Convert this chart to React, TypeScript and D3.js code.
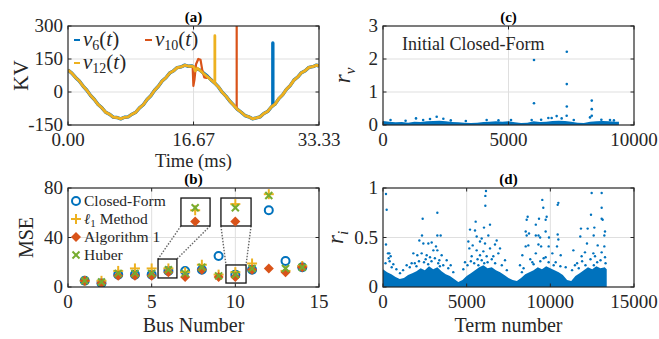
import React from 'react';
import * as d3 from 'd3';

const SERIF = "'Liberation Serif', 'DejaVu Serif', Times, serif";
const BLUE = '#0072BD';
const ORANGE = '#D95319';
const YELLOW = '#EDB120';
const GREEN = '#77AC30';
const GRID = '#dfdfdf';
const INK = '#262626';

const timeMs = [...d3.range(0, 33.5, 0.5), 33.33];
const baseKV = [
  100, 86, 66, 50, 27, 8, -16, -34, -57, -72, -92, -101, -114, -116, -122, -115,
  -113, -101, -92, -72, -58, -34, -17, 8, 26, 50, 65, 86, 96, 111, 114, 122,
  117, 118, 106, 100, 86, 72, 55, 40, 22, -2, -20, -42, -60, -79, -92, -107,
  -113, -122, -118, -113, -98, -89, -68, -55, -30, -13, 12, 29, 54, 68, 88, 97,
  112, 115, 122, 118,
];
// disturbances: [time, kV], and the window of base samples they replace
const v6Events = [[27.2, -62], [27.2, 223], [27.2, -62]];
const v6Window = [27.1, 27.3];
const v10Events = [
  [16.55, 118], [16.65, 28], [16.8, 58], [17.0, 126], [17.3, 150], [17.6, 146],
  [17.85, 96], [18.1, 66], [18.4, 64], [22.4, -76], [22.4, 330], [22.4, -76],
];
const v10Window = [16.5, 18.45];
const v12Events = [[16.75, 112], [16.9, 96], [17.2, 108], [19.5, 40], [19.5, 256], [19.5, 40]];
const v12Window = [16.6, 19.55];

// ---- (b) MSE per bus
const busNumbers = [1, 2, 3, 4, 5, 6, 7, 8, 9, 10, 11, 12, 13, 14];
const closedForm = [5, 3, 10, 10, 10, 13, 13, 14, 25, 10, 14, 62, 21, 16];
const l1Method = [5, 5, 13, 15, 15, 15, 12, 18, 10, 12, 19, 75, 13, 17];
const algorithm1 = [5, 3, 9, 9, 9, 12, 8, 14, 8, 8, 14, 15, 12, 16];
const huber = [5, 4, 11, 11, 11, 14, 11, 16, 9, 10, 15, 74, 15, 16];
// zoomed insets: magnified values of bus 6 and bus 10
const insetBus = [7.6, 10.0];
const insetL1 = [62, 67];
const insetAlg = [53, 53];
const insetHuber = [64, 64];

// ---- (c) initial closed-form residuals r_v
const rvBandTerm = [...d3.range(0, 9500, 250), 9400];
const rvBandTop = [
  0.12, 0.1, 0.08, 0.09, 0.07, 0.1, 0.09, 0.11, 0.12, 0.13, 0.11, 0.09, 0.08,
  0.07, 0.06, 0.07, 0.09, 0.1, 0.11, 0.1, 0.11, 0.08, 0.06, 0.07, 0.11, 0.09,
  0.1, 0.12, 0.13, 0.12, 0.1, 0.07, 0.06, 0.1, 0.11, 0.12, 0.11, 0.1, 0.1,
];
const rvPoints = [
  [300, 0.15], [900, 0.13], [1315, 0.2], [1600, 0.15], [1873, 0.18], [2139, 0.25],
  [2404, 0.19], [2700, 0.14], [3300, 0.12], [4130, 0.15], [4600, 0.14], [5100, 0.15],
  [5923, 0.15], [6300, 0.16], [6587, 0.21], [6720, 0.21], [6919, 0.27], [7118, 0.2],
  [7318, 0.28], [7600, 0.15], [8247, 0.23], [8700, 0.16], [9044, 0.15], [9200, 0.14],
  [6016, 1.97], [6016, 0.66], [7323, 2.22], [7323, 1.24], [7323, 0.56],
  [8317, 0.74], [8317, 0.48], [8317, 0.28],
];

// ---- (d) residuals r_i
const riBandTerm = [...d3.range(0, 13500, 250), 13370];
const riBandTop = [
  0.18, 0.15, 0.13, 0.1, 0.08, 0.09, 0.12, 0.14, 0.16, 0.19, 0.17, 0.21, 0.18,
  0.2, 0.16, 0.13, 0.11, 0.08, 0.05, 0.07, 0.11, 0.14, 0.17, 0.2, 0.22, 0.19,
  0.2, 0.17, 0.15, 0.12, 0.09, 0.07, 0.06, 0.09, 0.13, 0.15, 0.17, 0.2, 0.18,
  0.21, 0.19, 0.17, 0.15, 0.12, 0.07, 0.06, 0.11, 0.14, 0.17, 0.2, 0.18, 0.21,
  0.19, 0.2, 0.18,
];
const riPoints = [
  [179, 0.94], [219, 0.78], [179, 0.43], [299, 0.34], [379, 0.34], [339, 0.29],
  [458, 0.31], [398, 0.26], [617, 0.23], [150, 0.24], [520, 0.2], [800, 0.18],
  [1016, 0.14], [1414, 0.22], [1713, 0.24], [1813, 0.34], [2052, 0.32], [2172, 0.47],
  [2311, 0.34], [2331, 0.52], [2371, 0.69], [2411, 0.44], [2610, 0.32], [2710, 0.44],
  [2809, 0.3], [2909, 0.45], [3008, 0.37], [3167, 0.41], [3247, 0.75], [3247, 0.52],
  [3247, 0.37], [3366, 0.27], [3446, 0.52], [3506, 0.32], [3805, 0.27], [4044, 0.22],
  [1200, 0.17], [1600, 0.2], [1900, 0.24], [2150, 0.26], [2450, 0.25], [2550, 0.28],
  [2900, 0.26], [3100, 0.29], [3300, 0.24], [3600, 0.22], [3900, 0.19], [4200, 0.15],
  [2000, 0.21], [2700, 0.23], [3400, 0.21],
  [4900, 0.25], [5100, 0.46], [5160, 0.39], [5200, 0.58], [5300, 0.31], [5359, 0.42],
  [5499, 0.57], [5538, 0.66], [5598, 0.51], [5598, 0.37], [5797, 0.32], [5798, 0.46],
  [5897, 0.49], [5997, 0.36], [6036, 0.6], [6096, 0.44], [6116, 0.92], [6116, 0.82],
  [6155, 0.97], [6195, 0.31], [6295, 0.52], [6395, 0.63], [6395, 0.39], [6594, 0.31],
  [6693, 0.43], [6793, 0.47], [6892, 0.34], [6992, 0.39], [7291, 0.27],
  [4800, 0.18], [5050, 0.22], [5250, 0.26], [5450, 0.24], [5650, 0.28], [5900, 0.27],
  [6250, 0.25], [6500, 0.28], [6700, 0.24], [7100, 0.22], [7400, 0.17], [5700, 0.22],
  [6050, 0.24],
  [8187, 0.22], [8327, 0.32], [8527, 0.56], [8527, 0.41], [8586, 0.68], [8586, 0.52],
  [8646, 0.71], [8686, 0.42], [8726, 0.54], [8925, 0.25], [9132, 0.63], [9132, 0.52],
  [9132, 0.34], [9290, 0.43], [9293, 0.52], [9323, 0.69], [9391, 0.5], [9450, 0.41],
  [9520, 0.88], [9580, 0.8], [9720, 0.68], [9720, 0.56], [9720, 0.3], [9780, 0.71],
  [9900, 0.41], [9920, 0.5], [10120, 0.34], [10320, 0.25], [10400, 0.41], [10439, 0.83],
  [10439, 0.53], [10479, 0.48], [10479, 0.85], [10620, 0.32], [10918, 0.2],
  [8400, 0.19], [8800, 0.28], [9000, 0.23], [9400, 0.26], [9600, 0.29], [9900, 0.25],
  [10200, 0.22], [10600, 0.21], [8300, 0.15],
  [11376, 0.37], [11470, 0.22], [11790, 0.51], [11830, 0.59], [11870, 0.31], [12070, 0.35],
  [12190, 0.44], [12230, 0.59], [12430, 0.73], [12470, 0.95], [12570, 0.34], [12590, 0.52],
  [12630, 0.6], [12670, 0.31], [12829, 0.42], [13068, 0.95], [13068, 0.8], [13068, 0.69],
  [13068, 0.35], [13127, 0.68], [13228, 0.52], [13228, 0.41], [13268, 0.56], [13268, 0.3],
  [11300, 0.17], [11600, 0.24], [11900, 0.26], [12100, 0.22], [12400, 0.28], [12800, 0.25],
  [13000, 0.27], [13300, 0.24], [12600, 0.22], [11700, 0.19],
];

type Box = { x0: number; x1: number; y0: number; y1: number };
const boxA: Box = { x0: 68, x1: 319, y0: 26, y1: 125 };
const boxB: Box = { x0: 68, x1: 319, y0: 188, y1: 287 };
const boxC: Box = { x0: 383, x1: 634, y0: 26, y1: 125 };
const boxD: Box = { x0: 383, x1: 634, y0: 188, y1: 287 };

const serifStyle = { fontFamily: SERIF };

function mergeSeries(events: number[][], win: number[]) {
  const pts = timeMs
    .map((t, i) => [t, baseKV[i]])
    .filter(([t]) => !(t > win[0] && t < win[1]));
  return pts.concat(events).sort((a, b) => a[0] - b[0]);
}

function Panel({ id, b, x, y, xTicks, yTicks, xGrid, yGrid, xFmt, yFmt, title, children }: any) {
  const tk = 3.5;
  return (
    <g>
      <defs>
        <clipPath id={id}>
          <rect x={b.x0} y={b.y0} width={b.x1 - b.x0} height={b.y1 - b.y0} />
        </clipPath>
      </defs>
      <rect x={b.x0} y={b.y0} width={b.x1 - b.x0} height={b.y1 - b.y0} fill="#fff" />
      {xGrid.map((v: number) => (
        <line key={'gx' + v} x1={x(v)} x2={x(v)} y1={b.y0} y2={b.y1} stroke={GRID} />
      ))}
      {yGrid.map((v: number) => (
        <line key={'gy' + v} x1={b.x0} x2={b.x1} y1={y(v)} y2={y(v)} stroke={GRID} />
      ))}
      <g clipPath={`url(#${id})`}>{children}</g>
      <rect x={b.x0} y={b.y0} width={b.x1 - b.x0} height={b.y1 - b.y0} fill="none" stroke={INK} strokeWidth={1.2} />
      {xTicks.map((v: number) => (
        <g key={'tx' + v} stroke={INK}>
          <line x1={x(v)} x2={x(v)} y1={b.y1} y2={b.y1 - tk} />
          <line x1={x(v)} x2={x(v)} y1={b.y0} y2={b.y0 + tk} />
        </g>
      ))}
      {yTicks.map((v: number) => (
        <g key={'ty' + v} stroke={INK}>
          <line x1={b.x0} x2={b.x0 + tk} y1={y(v)} y2={y(v)} />
          <line x1={b.x1} x2={b.x1 - tk} y1={y(v)} y2={y(v)} />
        </g>
      ))}
      <g style={serifStyle} fontSize={19} fill={INK}>
        {xTicks.map((v: number) => (
          <text key={'lx' + v} x={x(v)} y={b.y1 + 20.5} textAnchor="middle">{xFmt(v)}</text>
        ))}
        {yTicks.map((v: number) => (
          <text key={'ly' + v} x={b.x0 - 5} y={y(v)} dy="0.33em" textAnchor="end">{yFmt(v)}</text>
        ))}
      </g>
      <text x={(b.x0 + b.x1) / 2} y={b.y0 - 4} textAnchor="middle" style={serifStyle} fontWeight="bold" fontSize={15} fill="#000">
        {title}
      </text>
    </g>
  );
}

function Plus({ cx, cy, s = 5 }: any) {
  return (
    <g stroke={YELLOW} strokeWidth={2}>
      <line x1={cx - s} x2={cx + s} y1={cy} y2={cy} />
      <line x1={cx} x2={cx} y1={cy - s} y2={cy + s} />
    </g>
  );
}
function Cross({ cx, cy, s = 3.5 }: any) {
  return (
    <g stroke={GREEN} strokeWidth={2}>
      <line x1={cx - s} x2={cx + s} y1={cy - s} y2={cy + s} />
      <line x1={cx - s} x2={cx + s} y1={cy + s} y2={cy - s} />
    </g>
  );
}
function Diamond({ cx, cy, s = 5 }: any) {
  return <path d={`M${cx},${cy - s}L${cx + s},${cy}L${cx},${cy + s}L${cx - s},${cy}Z`} fill={ORANGE} />;
}
function Ring({ cx, cy }: any) {
  return <circle cx={cx} cy={cy} r={4} fill="none" stroke={BLUE} strokeWidth={2} />;
}

function VLabel({ base, sub, sx, sy }: any) {
  // italic variable with subscript, e.g. v_6(t)
  return (
    <text x={sx} y={sy} style={serifStyle} fontSize={21} fill={INK}>
      <tspan fontStyle="italic">{base}</tspan>
      <tspan fontSize={14} dy={4}>{sub}</tspan>
      <tspan dy={-4}>(</tspan>
      <tspan fontStyle="italic">t</tspan>
      <tspan>)</tspan>
    </text>
  );
}

export default function App() {
  // (a)
  const xa = d3.scaleLinear().domain([0, 33.33]).range([boxA.x0, boxA.x1]);
  const ya = d3.scaleLinear().domain([-150, 300]).range([boxA.y1, boxA.y0]);
  const lineA = d3.line<number[]>().x((d) => xa(d[0])).y((d) => ya(d[1]));
  const v6 = mergeSeries(v6Events, v6Window);
  const v10 = mergeSeries(v10Events, v10Window);
  const v12 = mergeSeries(v12Events, v12Window);

  // (b)
  const xb = d3.scaleLinear().domain([0, 15]).range([boxB.x0, boxB.x1]);
  const yb = d3.scaleLinear().domain([0, 80]).range([boxB.y1, boxB.y0]);
  const srcBoxes = [
    { x0: 5.38, x1: 6.51, y0: 7.3, y1: 22.6 },
    { x0: 9.44, x1: 10.64, y0: 3.2, y1: 17.8 },
  ];
  const zoomBoxes = [
    { x0: 6.75, x1: 8.49, y0: 49.3, y1: 71.9 },
    { x0: 9.14, x1: 10.94, y0: 49.3, y1: 71.9 },
  ];

  // (c)
  const xc = d3.scaleLinear().domain([0, 10000]).range([boxC.x0, boxC.x1]);
  const yc = d3.scaleLinear().domain([0, 3]).range([boxC.y1, boxC.y0]);
  const areaC = d3
    .area<number>()
    .x((_, i) => xc(rvBandTerm[i]))
    .y0(yc(0) + 1.5)
    .y1((d) => yc(d));

  // (d)
  const xd = d3.scaleLinear().domain([0, 15000]).range([boxD.x0, boxD.x1]);
  const yd = d3.scaleLinear().domain([0, 1]).range([boxD.y1, boxD.y0]);
  const areaD = d3
    .area<number>()
    .x((_, i) => xd(riBandTerm[i]))
    .y0(yd(0) + 1.5)
    .y1((d) => yd(d));

  const legendB = [
    { label: 'Closed-Form', mark: 'o' },
    { label: 'l1', mark: '+' },
    { label: 'Algorithm 1', mark: 'd' },
    { label: 'Huber', mark: 'x' },
  ];

  return (
    <svg width={659} height={339} style={{ position: 'absolute', left: 0, top: 0, background: '#fff' }}>
      <rect width={659} height={339} fill="#fff" />

      {/* (a) */}
      <Panel
        id="clipA" b={boxA} x={xa} y={ya} title="(a)"
        xTicks={[0, 16.67, 33.33]} yTicks={[-150, 0, 150, 300]}
        xGrid={[16.67]} yGrid={[0, 150]}
        xFmt={(v: number) => v.toFixed(2)} yFmt={(v: number) => String(v)}
      >
        <path d={lineA(v6) || ''} fill="none" stroke={BLUE} strokeWidth={3.4} strokeLinejoin="round" />
        <path d={lineA(v10) || ''} fill="none" stroke={ORANGE} strokeWidth={2.2} strokeLinejoin="round" />
        <path d={lineA(v12) || ''} fill="none" stroke={YELLOW} strokeWidth={2.8} strokeLinejoin="round" />
      </Panel>
      <g>
        <line x1={74} x2={80} y1={40} y2={40} stroke={BLUE} strokeWidth={2} />
        <VLabel base="v" sub="6" sx={83} sy={46} />
        <line x1={145} x2={152} y1={40} y2={40} stroke={ORANGE} strokeWidth={2} />
        <VLabel base="v" sub="10" sx={155} sy={46} />
        <line x1={74} x2={80} y1={63} y2={63} stroke={YELLOW} strokeWidth={2} />
        <VLabel base="v" sub="12" sx={83} sy={69} />
      </g>
      <text x={xa(16.67)} y={166.5} textAnchor="middle" style={serifStyle} fontSize={18.5} fill={INK}>Time (ms)</text>
      <text transform={`translate(28,${(boxA.y0 + boxA.y1) / 2}) rotate(-90)`} textAnchor="middle" style={serifStyle} fontSize={21} fill={INK}>KV</text>

      {/* (b) */}
      <Panel
        id="clipB" b={boxB} x={xb} y={yb} title="(b)"
        xTicks={[0, 5, 10, 15]} yTicks={[0, 40, 80]}
        xGrid={[5, 10]} yGrid={[40]}
        xFmt={(v: number) => String(v)} yFmt={(v: number) => String(v)}
      >
        {busNumbers.map((b, i) => <Ring key={'o' + b} cx={xb(b)} cy={yb(closedForm[i])} />)}
        {busNumbers.map((b, i) => <Plus key={'p' + b} cx={xb(b)} cy={yb(l1Method[i])} />)}
        {busNumbers.map((b, i) => <Diamond key={'d' + b} cx={xb(b)} cy={yb(algorithm1[i])} />)}
        {busNumbers.map((b, i) => <Cross key={'x' + b} cx={xb(b)} cy={yb(huber[i])} />)}
        {srcBoxes.map((s, i) => {
          const z = zoomBoxes[i];
          return (
            <g key={'z' + i}>
              <line x1={xb(z.x0)} y1={yb(z.y0)} x2={xb(s.x0)} y2={yb(s.y1)} stroke="#666" strokeWidth={1.4} strokeDasharray="1.5,1.5" />
              <line x1={xb(z.x1)} y1={yb(z.y0)} x2={xb(s.x1)} y2={yb(s.y1)} stroke="#666" strokeWidth={1.4} strokeDasharray="1.5,1.5" />
              <rect x={xb(s.x0)} y={yb(s.y1)} width={xb(s.x1) - xb(s.x0)} height={yb(s.y0) - yb(s.y1)} fill="none" stroke="#111" strokeWidth={1.3} />
              <rect x={xb(z.x0)} y={yb(z.y1)} width={xb(z.x1) - xb(z.x0)} height={yb(z.y0) - yb(z.y1)} fill="#fff" stroke="#111" strokeWidth={1.3} />
              <Plus cx={xb(insetBus[i])} cy={yb(insetL1[i])} />
              <Diamond cx={xb(insetBus[i])} cy={yb(insetAlg[i])} />
              <Cross cx={xb(insetBus[i])} cy={yb(insetHuber[i])} />
            </g>
          );
        })}
      </Panel>
      <g style={serifStyle} fontSize={15.5} fill={INK}>
        {legendB.map((l, i) => {
          const cy = 201 + i * 18;
          const cx = 76;
          return (
            <g key={l.label}>
              {l.mark === 'o' && <Ring cx={cx} cy={cy} />}
              {l.mark === '+' && <Plus cx={cx} cy={cy} />}
              {l.mark === 'd' && <Diamond cx={cx} cy={cy} />}
              {l.mark === 'x' && <Cross cx={cx} cy={cy} />}
              {l.mark === '+' ? (
                <text x={84} y={cy} dy="0.35em">
                  <tspan fontStyle="italic" fontSize={15}>ℓ</tspan>
                  <tspan fontSize={11} dy={3}>1</tspan>
                  <tspan dy={-3}>{'\u00a0Method'}</tspan>
                </text>
              ) : (
                <text x={84} y={cy} dy="0.35em">{l.label}</text>
              )}
            </g>
          );
        })}
      </g>
      <text x={xb(7.5)} y={332} textAnchor="middle" style={serifStyle} fontSize={20} fill={INK}>Bus Number</text>
      <text transform={`translate(33,${(boxB.y0 + boxB.y1) / 2}) rotate(-90)`} textAnchor="middle" style={serifStyle} fontSize={20} fill={INK}>MSE</text>

      {/* (c) */}
      <Panel
        id="clipC" b={boxC} x={xc} y={yc} title="(c)"
        xTicks={[0, 5000, 10000]} yTicks={[0, 1, 2, 3]}
        xGrid={[5000]} yGrid={[1, 2]}
        xFmt={(v: number) => String(v)} yFmt={(v: number) => String(v)}
      >
        <path d={areaC(rvBandTop) || ''} fill={BLUE} />
        {rvPoints.map((p, i) => <circle key={i} cx={xc(p[0])} cy={yc(p[1])} r={1.3} fill={BLUE} />)}
      </Panel>
      <text x={402} y={50} style={serifStyle} fontSize={18} fill={INK}>Initial Closed-Form</text>
      <text transform={`translate(350,${(boxC.y0 + boxC.y1) / 2}) rotate(-90)`} textAnchor="middle" style={serifStyle} fontSize={23} fill={INK}>
        <tspan fontStyle="italic">r</tspan>
        <tspan fontStyle="italic" fontSize={15} dy={5}>v</tspan>
      </text>

      {/* (d) */}
      <Panel
        id="clipD" b={boxD} x={xd} y={yd} title="(d)"
        xTicks={[0, 5000, 10000, 15000]} yTicks={[0, 0.5, 1]}
        xGrid={[5000, 10000]} yGrid={[0.5]}
        xFmt={(v: number) => String(v)} yFmt={(v: number) => String(v)}
      >
        <path d={areaD(riBandTop) || ''} fill={BLUE} />
        {riPoints.map((p, i) => <circle key={i} cx={xd(p[0])} cy={yd(p[1])} r={1.2} fill={BLUE} />)}
      </Panel>
      <text x={xd(7500)} y={332} textAnchor="middle" style={serifStyle} fontSize={20} fill={INK}>Term number</text>
      <text transform={`translate(343,${(boxD.y0 + boxD.y1) / 2}) rotate(-90)`} textAnchor="middle" style={serifStyle} fontSize={23} fill={INK}>
        <tspan fontStyle="italic">r</tspan>
        <tspan fontStyle="italic" fontSize={15} dy={5}>i</tspan>
      </text>
    </svg>
  );
}
